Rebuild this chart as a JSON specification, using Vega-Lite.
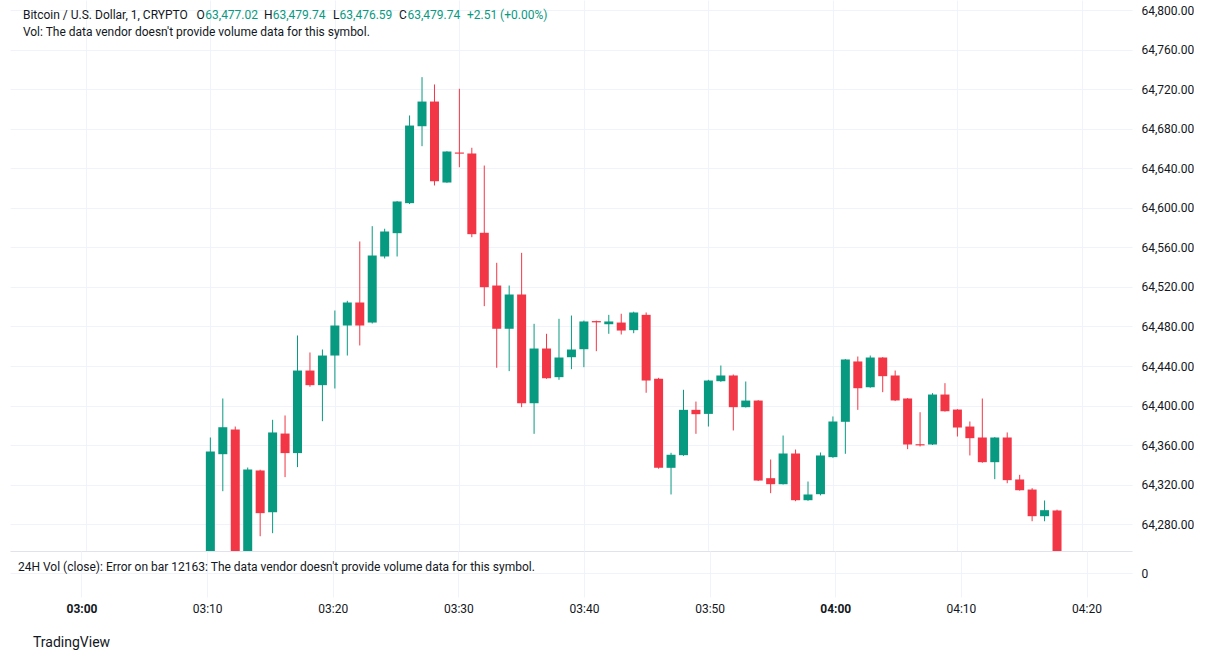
{
  "$schema": "https://vega.github.io/schema/vega-lite/v6.json",
  "background": "white",
  "padding": {"left": 10, "top": 0, "right": 0, "bottom": 0},
  "autosize": {"type": "pad"},
  "config": {"view": {"stroke": null}, "font": "Roboto", "title": {"font": "Roboto"}},
  "datasets": {
    "candles": [
      {"m":10,"o":64245,"h":64367.6,"l":64240,"c":64353.4},
      {"m":11,"o":64350.7,"h":64407.1,"l":64313.2,"c":64378.0},
      {"m":12,"o":64375.7,"h":64378.7,"l":64240,"c":64245},
      {"m":13,"o":64245,"h":64337.2,"l":64240,"c":64335.2},
      {"m":14,"o":64334.2,"h":64335,"l":64267.6,"c":64291.0},
      {"m":15,"o":64291.9,"h":64385.5,"l":64270.7,"c":64372.7},
      {"m":16,"o":64371.6,"h":64389.9,"l":64327.5,"c":64351.8},
      {"m":17,"o":64351.8,"h":64470.9,"l":64337.6,"c":64435.4},
      {"m":18,"o":64435.4,"h":64453.7,"l":64419,"c":64420.6},
      {"m":19,"o":64420.6,"h":64456.7,"l":64384.1,"c":64450.6},
      {"m":20,"o":64450.6,"h":64496.2,"l":64417.2,"c":64481.0},
      {"m":21,"o":64481.0,"h":64506,"l":64450.6,"c":64504.3},
      {"m":22,"o":64504.3,"h":64566.1,"l":64460.8,"c":64481.0},
      {"m":23,"o":64484.0,"h":64581.6,"l":64483,"c":64551.9},
      {"m":24,"o":64550.9,"h":64579,"l":64548.9,"c":64576.2},
      {"m":25,"o":64574.5,"h":64607,"l":64550.9,"c":64606.6},
      {"m":26,"o":64604.9,"h":64693.7,"l":64604,"c":64683.5},
      {"m":27,"o":64682.8,"h":64732.5,"l":64662.6,"c":64707.8},
      {"m":28,"o":64707.8,"h":64725.1,"l":64622.8,"c":64627.1},
      {"m":29,"o":64625.8,"h":64657.5,"l":64625.5,"c":64657.2},
      {"m":30,"o":64656.2,"h":64720.7,"l":64641.3,"c":64655.0},
      {"m":31,"o":64655.2,"h":64661,"l":64570.4,"c":64573.5},
      {"m":32,"o":64574.9,"h":64643,"l":64500.6,"c":64519.8},
      {"m":33,"o":64521.5,"h":64544.5,"l":64438.2,"c":64477.7},
      {"m":34,"o":64477.7,"h":64521.5,"l":64434.8,"c":64512.4},
      {"m":35,"o":64512.4,"h":64554.6,"l":64398.3,"c":64402.3},
      {"m":36,"o":64402.3,"h":64482.7,"l":64371.3,"c":64457.7},
      {"m":37,"o":64457.7,"h":64472.6,"l":64427,"c":64427.6},
      {"m":38,"o":64428.7,"h":64487.8,"l":64426,"c":64448.6},
      {"m":39,"o":64448.9,"h":64491.1,"l":64436.8,"c":64456.7},
      {"m":40,"o":64457.0,"h":64486,"l":64438.8,"c":64485.1},
      {"m":41,"o":64485.5,"h":64486,"l":64455.0,"c":64484.2},
      {"m":42,"o":64482.3,"h":64491.8,"l":64472.6,"c":64485.1},
      {"m":43,"o":64484.0,"h":64492.9,"l":64471.9,"c":64475.9},
      {"m":44,"o":64476.3,"h":64495,"l":64473.2,"c":64494.2},
      {"m":45,"o":64491.8,"h":64494.2,"l":64412.9,"c":64425.3},
      {"m":46,"o":64427.0,"h":64428,"l":64336,"c":64336.9},
      {"m":47,"o":64336.9,"h":64352.1,"l":64309.9,"c":64350.1},
      {"m":48,"o":64349.7,"h":64415.9,"l":64349,"c":64395.6},
      {"m":49,"o":64395.6,"h":64404.0,"l":64371.3,"c":64391.2},
      {"m":50,"o":64391.5,"h":64426,"l":64378.7,"c":64425.3},
      {"m":51,"o":64424.6,"h":64440.5,"l":64424,"c":64430.4},
      {"m":52,"o":64430.4,"h":64431.4,"l":64374.7,"c":64398.3},
      {"m":53,"o":64398.3,"h":64424.3,"l":64398,"c":64405.0},
      {"m":54,"o":64405.0,"h":64405.5,"l":64323.5,"c":64324.0},
      {"m":55,"o":64326.4,"h":64345.3,"l":64311.2,"c":64320.3},
      {"m":56,"o":64320.3,"h":64369.6,"l":64320,"c":64351.4},
      {"m":57,"o":64351.4,"h":64355.4,"l":64303.1,"c":64304.1},
      {"m":58,"o":64304.1,"h":64323.0,"l":64303.5,"c":64309.9},
      {"m":59,"o":64310.2,"h":64352.4,"l":64309,"c":64349.4},
      {"m":60,"o":64347.7,"h":64388.9,"l":64347,"c":64383.8},
      {"m":61,"o":64383.5,"h":64447,"l":64351.1,"c":64446.6},
      {"m":62,"o":64444.6,"h":64449.6,"l":64395.6,"c":64417.5},
      {"m":63,"o":64418.5,"h":64450.6,"l":64418,"c":64448.6},
      {"m":64,"o":64448.6,"h":64449,"l":64413.5,"c":64429.7},
      {"m":65,"o":64430.4,"h":64435.4,"l":64404.5,"c":64405.1},
      {"m":66,"o":64407.1,"h":64407.5,"l":64355.8,"c":64360.5},
      {"m":67,"o":64360.8,"h":64393.2,"l":64358.5,"c":64359.6},
      {"m":68,"o":64360.5,"h":64412.5,"l":64360,"c":64411.1},
      {"m":69,"o":64411.1,"h":64422.6,"l":64393.8,"c":64394.2},
      {"m":70,"o":64395.9,"h":64396.3,"l":64368.6,"c":64377.7},
      {"m":71,"o":64378.7,"h":64383.8,"l":64349.4,"c":64366.9},
      {"m":72,"o":64367.6,"h":64407.1,"l":64342,"c":64342.6},
      {"m":73,"o":64342.6,"h":64368,"l":64325.4,"c":64367.6},
      {"m":74,"o":64367.6,"h":64372.7,"l":64321.3,"c":64324.4},
      {"m":75,"o":64325.1,"h":64329.8,"l":64313.8,"c":64314.2},
      {"m":76,"o":64314.9,"h":64316.3,"l":64282.8,"c":64287.9},
      {"m":77,"o":64287.9,"h":64303.8,"l":64282.8,"c":64294},
      {"m":78,"o":64293.7,"h":64294.5,"l":64240,"c":64245}
    ],
    "header": [
      {"m":-5.055,"p":64795.6,"text":"Bitcoin / U.S. Dollar, 1, CRYPTO","role":"label"},
      {"m":8.88,"p":64795.6,"text":"O","role":"label"},
      {"m":9.592,"p":64795.6,"text":"63,477.02","role":"value"},
      {"m":14.30,"p":64795.6,"text":"H","role":"label"},
      {"m":15.005,"p":64795.6,"text":"63,479.74","role":"value"},
      {"m":19.85,"p":64795.6,"text":"L","role":"label"},
      {"m":20.378,"p":64795.6,"text":"63,476.59","role":"value"},
      {"m":25.15,"p":64795.6,"text":"C","role":"label"},
      {"m":25.831,"p":64795.6,"text":"63,479.74","role":"value"},
      {"m":30.607,"p":64795.6,"text":"+2.51 (+0.00%)","role":"value"},
      {"m":-5.055,"p":64778.0,"text":"Vol: The data vendor doesn't provide volume data for this symbol.","role":"label"}
    ]
  },
  "title": {"text": "TradingView", "orient": "bottom", "anchor": "start", "dx": 23, "offset": 22, "fontSize": 14, "fontWeight": "normal", "color": "#131722"},
  "spacing": 0,
  "vconcat": [
    {
      "width": 1122,
      "height": 551,
      "layer": [
        {
          "data": {"name": "candles"},
          "mark": {"type": "rule", "clip": true, "strokeWidth": 1},
          "encoding": {
            "x": {"field": "m", "type": "quantitative", "scale": {"domain": [-5.69, 83.62], "nice": false, "zero": false},
                  "axis": {"values": [0,10,20,30,40,50,60,70,80], "labels": false, "ticks": false, "domain": true, "domainColor": "#e0e3eb", "grid": true, "gridColor": "#f0f3fa", "title": null}},
            "y": {"field": "l", "type": "quantitative", "scale": {"domain": [64252.66, 64810.63], "nice": false, "zero": false},
                  "axis": {"orient": "right", "values": [64280,64320,64360,64400,64440,64480,64520,64560,64600,64640,64680,64720,64760,64800], "format": ",.2f", "grid": true, "gridColor": "#f0f3fa", "domain": false, "ticks": false, "labelPadding": 9, "labelFontSize": 12, "labelColor": "#131722", "title": null}},
            "y2": {"field": "h"},
            "color": {"condition": {"test": "datum.c >= datum.o", "value": "#089981"}, "value": "#f23645"}
          }
        },
        {
          "data": {"name": "candles"},
          "mark": {"type": "bar", "clip": true, "width": 9},
          "encoding": {
            "x": {"field": "m", "type": "quantitative"},
            "y": {"field": "o", "type": "quantitative"},
            "y2": {"field": "c"},
            "color": {"condition": {"test": "datum.c >= datum.o", "value": "#089981"}, "value": "#f23645"}
          }
        },
        {
          "data": {"name": "header"},
          "mark": {"type": "text", "align": "left", "baseline": "middle", "fontSize": 12},
          "encoding": {
            "x": {"field": "m", "type": "quantitative"},
            "y": {"field": "p", "type": "quantitative"},
            "text": {"field": "text"},
            "color": {"field": "role", "type": "nominal", "scale": {"domain": ["label", "value"], "range": ["#131722", "#089981"]}, "legend": null}
          }
        }
      ]
    },
    {
      "width": 1122,
      "height": 46,
      "data": {"values": [{"m": -5.055, "v": 0.273, "text": "24H Vol (close): Error on bar 12163: The data vendor doesn't provide volume data for this symbol."}]},
      "mark": {"type": "text", "align": "left", "baseline": "middle", "fontSize": 12, "color": "#131722"},
      "encoding": {
        "x": {"field": "m", "type": "quantitative", "scale": {"domain": [-5.69, 83.62], "nice": false, "zero": false},
              "axis": {"values": [0,10,20,30,40,50,60,70,80], "labelExpr": "'0' + (3 + floor(datum.value/60)) + ':' + (datum.value % 60 < 10 ? '0' : '') + (datum.value % 60)", "labelFontWeight": {"condition": {"test": "datum.value % 60 === 0", "value": "bold"}, "value": "normal"}, "labelFontSize": 12, "labelColor": "#131722", "labelPadding": 6, "ticks": false, "domain": false, "grid": true, "gridColor": "#f0f3fa", "title": null}},
        "y": {"field": "v", "type": "quantitative", "scale": {"domain": [-1.09, 1], "nice": false, "zero": false},
              "axis": {"orient": "right", "values": [0], "grid": true, "gridColor": "#f0f3fa", "domain": false, "ticks": false, "labelPadding": 9, "labelFontSize": 12, "labelColor": "#131722", "title": null}},
        "text": {"field": "text"}
      }
    }
  ]
}
